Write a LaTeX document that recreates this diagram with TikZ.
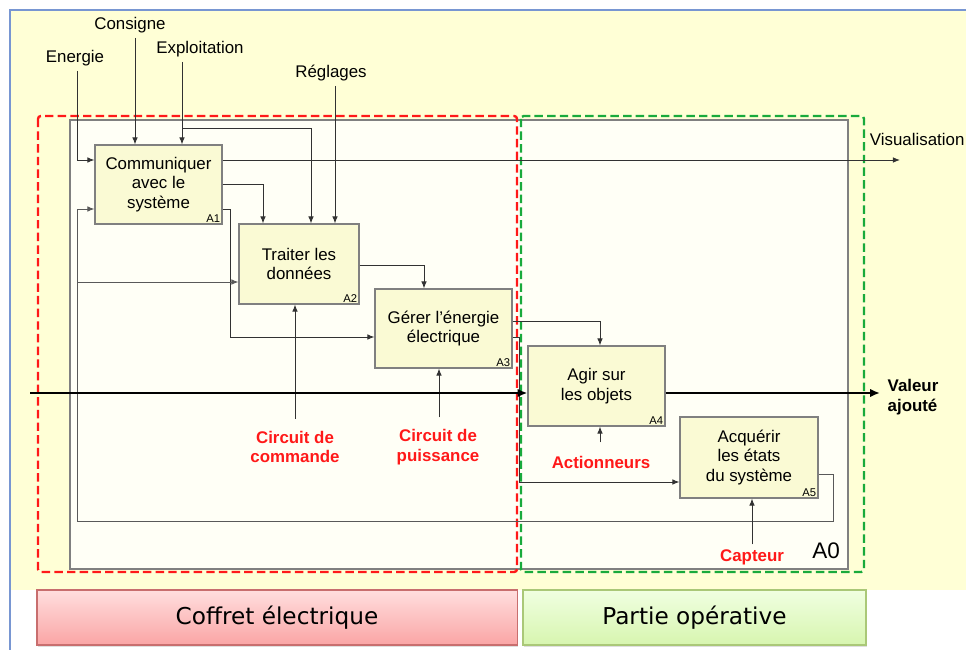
\documentclass[tikz,border=0pt]{standalone}
\usepackage{fontspec}
\setmainfont{Liberation Sans}
\newfontfamily\btnfont{DejaVu Sans}
\usetikzlibrary{arrows.meta,shadows}
\definecolor{fondJaune}{RGB}{255,255,214}
\definecolor{fondAzero}{RGB}{255,255,246}
\definecolor{boiteJaune}{RGB}{250,250,212}
\definecolor{rougeC}{RGB}{255,25,25}
\definecolor{vertP}{RGB}{25,170,60}
\definecolor{traitGris}{RGB}{50,50,50}
\definecolor{cadreBleu}{RGB}{120,150,210}

\begin{document}
\begin{tikzpicture}[x=0.025cm, y=-0.025cm,
        box/.style={draw=gray, fill=boiteJaune, line width=0.8pt, align=center, inner sep=1pt, font=\fontsize{12}{14}\selectfont},
        num/.style={anchor=south east, inner sep=1.5pt, font=\fontsize{8}{9}\selectfont},
        lbl/.style={font=\fontsize{12}{14}\selectfont},
        ctl/.style={text=rougeC, align=center, font=\bfseries\fontsize{12}{14}\selectfont},
        fl/.style={draw=traitGris, line width=0.7pt, -{Latex[length=5pt,width=4pt]}},
        retour/.style={fl, draw=gray!70!black},
        flux/.style={draw=black, line width=2pt, -{Latex[length=7pt,width=6pt]}},
        zone/.style={line width=1.7pt, dash pattern=on 6pt off 3pt, rounded corners=2pt},
        btn/.style={draw, line width=0.8pt, font=\btnfont\fontsize{16.5}{19}\selectfont, drop shadow={opacity=0.25, shadow xshift=1pt, shadow yshift=-1.5pt}}]
    \useasboundingbox (0,0) rectangle (966,650);

    % fond et cadres
    \fill[fondJaune] (10,10) rectangle (966,590);
    \draw[cadreBleu, line width=1pt] (10,650) -- (10,10) -- (966,10);
    \draw[gray, line width=0.8pt, fill=fondAzero] (70,120) rectangle (848,569);
    \draw[rougeC, zone] (38,116) rectangle (517,572);
    \draw[vertP, zone] (521,116) rectangle (864,572);

    % activites
    \node[box, minimum width=3.175cm, minimum height=1.975cm] (A1) at (158.5,184.5) {Communiquer\\avec le\\système};
    \node[box, minimum width=3cm, minimum height=2cm] (A2) at (299,264) {Traiter les\\données};
    \node[box, minimum width=3.425cm, minimum height=1.975cm] (A3) at (443.5,328.5) {Gérer l'énergie\\électrique};
    \node[box, minimum width=3.425cm, minimum height=2cm] (A4) at (596.5,386) {Agir sur\\les objets};
    \node[box, minimum width=3.45cm, minimum height=2.025cm] (A5) at (749,457.5) {Acquérir\\les états\\du système};
    \node[num] (n1) at (A1.south east) {A1};
    \node[num] (n2) at (A2.south east) {A2};
    \node[num] (n3) at (A3.south east) {A3};
    \node[num] (n4) at (A4.south east) {A4};
    \node[num] (n5) at (A5.south east) {A5};
    \node[font=\fontsize{16}{18}\selectfont] (a0) at (826,551) {A0};

    % entrees et sorties
    \node[lbl] (energie) at (75,58) {Energie};
    \node[lbl] (consigne) at (130,25) {Consigne};
    \node[lbl] (exploit) at (200,49) {Exploitation};
    \node[lbl] (reglages) at (331,73) {Réglages};
    \node[lbl, anchor=west] (visu) at (865,139) {Visualisation};
    \node[font=\bfseries\fontsize{12}{14}\selectfont, align=left] (valeur) at (913,397) {Valeur\\ajouté};
    \node[ctl] (cmd) at (295,447) {Circuit de\\commande};
    \node[ctl] (puis) at (438,447) {Circuit de\\puissance};
    \node[ctl] (act) at (601,462) {Actionneurs};
    \node[ctl] (capt) at (752,557) {Capteur};

    \coordinate (visuFin) at (900,160);
    \coordinate (matDebut) at (30,393);
    \coordinate (matFin) at (880,393);
    \coordinate (bifExp) at (182,128);
    \coordinate (retourA2) at (77,282);

    \draw[fl] (energie.south -| 77,0) |- (A1.west |- 0,160);
    \draw[fl] (consigne.south -| 135,0) -- (A1.north -| 135,0);
    \draw[fl] (exploit.south -| 182,0) -- (A1.north -| 182,0);
    \draw[fl] (bifExp) -| (A2.north -| 311,0);
    \draw[fl] (reglages.south -| 335,0) -- (A2.north -| 335,0);
    \draw[fl] (A1.east |- 0,160) -- (visuFin);
    \draw[fl] (A1.east |- 0,184) -| (A2.north -| 263,0);
    \draw[fl] (A1.east |- 0,209) -- (230,209) |- (A3.west |- 0,337);
    \draw[fl] (A2.east |- 0,265) -| (A3.north -| 424,0);
    \draw[fl] (A3.east |- 0,321) -| (A4.north -| 600,0);
    \draw[fl] (A3.east |- 0,337) -- (519,337) |- (A5.west |- 0,482);
    \draw[retour] (A5.east |- 0,474) -- (833,474) |- (77,521) |- (A1.west |- 0,209);
    \draw[retour] (retourA2) -- (A2.west |- retourA2);

    \draw[fl] ([yshift=5pt]cmd.north) -- (A2.south -| cmd.north);
    \draw[fl] ([yshift=5pt]puis.north -| 439,0) -- (A3.south -| 439,0);
    \draw[fl] ([yshift=6pt]act.north -| 600,0) -- (A4.south -| 600,0);
    \draw[fl] (capt.north) -- (A5.south -| capt.north);

    \draw[flux] (matDebut) -- (A4.west |- matDebut);
    \draw[flux] (A4.east |- matDebut) -- (matFin);

    % bandeaux
    \node[btn, draw={rgb,255:red,200;green,110;blue,110}, top color={rgb,255:red,255;green,222;blue,222}, bottom color={rgb,255:red,250;green,165;blue,165}, minimum width=12cm, minimum height=1.375cm] (coffret) at (277,617.5) {Coffret électrique};
    \node[btn, draw={rgb,255:red,170;green,200;blue,120}, top color={rgb,255:red,240;green,255;blue,225}, bottom color={rgb,255:red,215;green,245;blue,175}, minimum width=8.575cm, minimum height=1.375cm] (partie) at (694.5,617.5) {Partie opérative};
\end{tikzpicture}
\end{document}
